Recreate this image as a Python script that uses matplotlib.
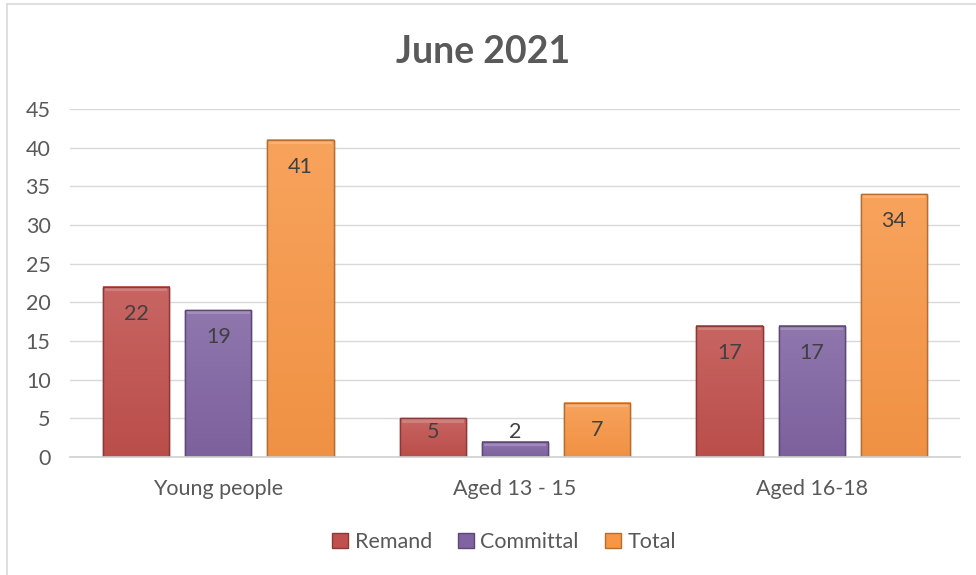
import matplotlib
matplotlib.use("Agg")
import matplotlib.pyplot as plt
from matplotlib.colors import to_rgb
import numpy as np

plt.rcParams['font.family'] = ['Lato', 'DejaVu Sans']

categories = ["Young people", "Aged 13 - 15", "Aged 16-18"]
series_names = ["Remand", "Committal", "Total"]
remand = [22, 5, 17]
committal = [19, 2, 17]
total = [41, 7, 34]
yticks = list(range(0, 50, 5))

colors = ["#C0504D", "#8064A2", "#F79646"]
edges = ["#8C3836", "#5C4776", "#B66D2E"]
text_color = "#595959"


def shade(c, f):
    r = np.array(to_rgb(c))
    if f > 0:
        return r + (1 - r) * f
    return r * (1 + f)


fig = plt.figure(figsize=(9.76, 5.75), dpi=100)
ax = fig.add_axes([70 / 976, 1 - 457 / 575, 890 / 976, 348 / 575])

x = np.arange(len(categories))
width = 0.223
pitch = 0.277
values = [remand, committal, total]

for i, (name, vals) in enumerate(zip(series_names, values)):
    pos = x + (i - 1) * pitch
    bars = ax.bar(pos, vals, width, color=colors[i], edgecolor=edges[i],
                  linewidth=1.0, label=name, zorder=3)
    top = shade(colors[i], 0.12)
    bot = shade(colors[i], -0.03)
    for b, v in zip(bars, vals):
        bx = b.get_x()
        grad = np.linspace(0, 1, 64)[:, None, None]
        img = top * (1 - grad) + bot * grad
        ax.imshow(img, extent=(bx, bx + width, 0, v), origin="upper",
                  aspect="auto", zorder=3.5)
        # bevel strip along the top
        ax.fill_between([bx + 0.006, bx + width - 0.006], v - 0.55, v - 0.05,
                        color="white", alpha=0.18, linewidth=0, zorder=4)
        ax.bar(bx + width / 2, v, width, facecolor="none", edgecolor=edges[i],
               linewidth=1.0, zorder=4.5)
        ax.text(bx + width / 2, max(v - 3.5, 3.2), str(v), ha="center",
                va="center", fontsize=15.5, color="#404040", zorder=5)

ax.set_xlim(-0.5, 2.5)
ax.set_ylim(0, 45)
ax.set_yticks(yticks)
ax.set_xticks(x)
ax.set_xticklabels(categories)
ax.tick_params(axis="both", length=0, labelsize=15.5, colors=text_color)
ax.tick_params(axis="y", pad=14)
ax.tick_params(axis="x", pad=16)
ax.grid(axis="y", color="#D9D9D9", linewidth=1, zorder=0)
for s in ["top", "right", "left"]:
    ax.spines[s].set_visible(False)
ax.spines["bottom"].set_color("#D0D0D0")
ax.spines["bottom"].set_linewidth(1.2)
ax.spines["bottom"].set_zorder(6)

fig.text(0.495, 1 - 52 / 575, "June 2021", ha="center", va="center",
         fontsize=27, fontweight="bold", color=text_color)

fig.legend(loc="center", bbox_to_anchor=(504 / 976, 1 - 542 / 575), ncol=3,
           frameon=False, fontsize=15.5, labelcolor=text_color,
           handlelength=0.75, handleheight=0.75, handletextpad=0.3,
           columnspacing=1.2)

# chart frame (left and top edges visible)
fig.add_artist(plt.Line2D([7 / 976, 7 / 976], [0, 1 - 4 / 575],
                          transform=fig.transFigure, color="#D9D9D9", linewidth=1.2))
fig.add_artist(plt.Line2D([7 / 976, 1], [1 - 4 / 575, 1 - 4 / 575],
                          transform=fig.transFigure, color="#D9D9D9", linewidth=1.2))

fig.savefig("out.png", dpi=100, facecolor="white")
